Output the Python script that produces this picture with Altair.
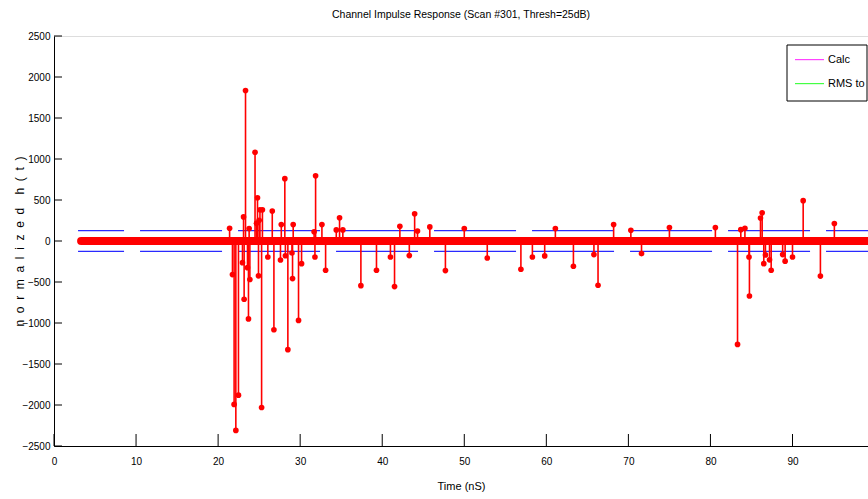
import altair as alt
import pandas as pd

# ---- data ----
t_ns = [21.4, 21.75, 21.95, 22.16, 22.48, 22.97, 23.1, 23.17, 23.34, 23.58,
        23.7, 23.78, 23.87, 24.5, 24.68, 24.8, 24.92, 25.0, 25.1, 25.3,
        25.4, 26.06, 26.6, 26.8, 27.6, 27.7, 28.13, 28.2, 28.5, 29.0,
        29.07, 29.15, 29.8, 30.17, 31.7, 31.8, 31.88, 32.65, 33.1, 34.4,
        34.8, 35.2, 37.4, 39.3, 41.0, 41.5, 42.15, 43.3, 43.95, 44.3,
        45.8, 47.7, 50.0, 52.8, 56.9, 58.3, 59.8, 61.1, 63.3, 65.8,
        66.3, 68.2, 70.3, 71.6, 75.0, 80.6, 83.3, 83.7, 84.2, 84.7,
        84.75, 86.1, 86.3, 86.5, 86.7, 87.2, 87.4, 88.8, 89.1, 90.0,
        91.3, 93.4, 95.1]
h_val = [155, -410, -1993, -2310, -1880, -264, 294, -710, 1835, -325,
         -950, 152, -470, 1082, 215, 528, -425, 253, 380, -2030,
         380, -195, 365, -1082, -232, 200, 760, -180, -1325, -146,
         -458, 200, -968, -276, 112, -195, 795, 200, -357, 135,
         283, 135, -545, -357, -195, -556, 180, -178, 332, 122,
         172, -361, 152, -207, -345, -195, -182, 152, -308, -166,
         -540, 200, 131, -154, 164, 164, -1261, 138, 156, -195,
         -671, 280, 345, -276, -170, -230, -357, -166, -246, -195,
         492, -428, 213]

thresh = 127          # RMS threshold level (+/-)
t_start = 2.93        # first sample time (nS)
band_start = 3.3
t_end = 99.2          # visible end of time axis
x_ticks = [0, 10, 20, 30, 40, 50, 60, 70, 80, 90]
y_ticks = [-2500, -2000, -1500, -1000, -500, 0, 500, 1000, 1500, 2000, 2500]
legend_labels = ["Calc", "RMS to"]
legend_colors = ["#ff44ff", "#44ff44"]

FONT = "Liberation Sans, Arial"
W, H = 814, 410
NB = "\u00a0"
y_title = (NB * 2).join("normalized") + NB * 4 + (NB * 2).join("h(t)")

spikes = pd.DataFrame({"t": t_ns, "h": h_val})
thr = pd.DataFrame({"t0": [t_start, t_start], "t1": [t_end, t_end], "y": [thresh, -thresh]})
band = pd.DataFrame({"t0": [band_start], "t1": [t_end], "y": [0]})
xt = pd.DataFrame({"v": x_ticks})
yt = pd.DataFrame({"v": y_ticks})
one = pd.DataFrame({"k": [0]})

xs = alt.Scale(domain=[0, t_end], nice=False, zero=False)
ys = alt.Scale(domain=[-2500, 2500], nice=False)

x_axis = alt.Axis(values=x_ticks, ticks=False, grid=False, title="Time (nS)",
                  labelFont=FONT, labelFontSize=10, labelPadding=10, labelFlush=False,
                  labelOverlap=False, labelColor="black", format="d",
                  titleFont=FONT, titleFontSize=11, titleFontWeight="normal",
                  titlePadding=14, titleColor="black",
                  domainColor="black", domainWidth=1)
y_axis = alt.Axis(values=y_ticks, ticks=False, grid=False,
                  title=y_title,
                  labelFont=FONT, labelFontSize=10, labelPadding=4, labelFlush=False,
                  labelOverlap=False, labelColor="black", format="d",
                  titleFont=FONT, titleFontSize=12, titleFontWeight="normal",
                  titleX=-35, titleY=H / 2, titleAlign="center", titleBaseline="middle",
                  titleAngle=270, titleColor="black",
                  domainColor="black", domainWidth=1)

X = lambda f: alt.X(f, scale=xs, axis=x_axis)
Y = lambda f: alt.Y(f, scale=ys, axis=y_axis)

thr_layer = alt.Chart(thr).mark_rule(color="#2a2aff", strokeWidth=1.3,
                                     strokeDash=[82, 16], strokeDashOffset=36).encode(
    x=X("t0:Q"), x2="t1:Q", y=Y("y:Q"))

band_layer = alt.Chart(band).mark_rule(color="#ff0000", strokeWidth=8, strokeCap="round").encode(
    x=X("t0:Q"), x2="t1:Q", y=Y("y:Q"))

stems = alt.Chart(spikes).mark_rule(color="#ff0000", strokeWidth=1.6).encode(
    x=X("t:Q"), y=Y("h:Q"), y2=alt.datum(0))

marks = alt.Chart(spikes).mark_point(filled=True, color="#ff0000", size=32, opacity=1).encode(
    x=X("t:Q"), y=Y("h:Q"))

xtick_layer = alt.Chart(xt).mark_rule(color="black", strokeWidth=1).encode(
    x=X("v:Q"), y=alt.value(H), y2=alt.value(H - 12))
ytick_layer = alt.Chart(yt).mark_rule(color="black", strokeWidth=1).encode(
    y=Y("v:Q"), x=alt.value(0), x2=alt.value(8))

leg_box = alt.Chart(one).mark_rect(fill="white", stroke="black", strokeWidth=1).encode(
    x=alt.value(733), x2=alt.value(813), y=alt.value(9), y2=alt.value(65))

leg_layers = []
for i, (lab, col) in enumerate(zip(legend_labels, legend_colors)):
    yy = 23 + 24 * i
    leg_layers.append(alt.Chart(one).mark_rect(fill=col, strokeWidth=0).encode(
        x=alt.value(741), x2=alt.value(770), y=alt.value(yy), y2=alt.value(yy + 1.2)))
    leg_layers.append(alt.Chart(one).mark_text(align="left", baseline="middle", font=FONT,
                                               fontSize=11, color="black", text=lab).encode(
        x=alt.value(774), y=alt.value(yy + 1)))

chart = alt.layer(thr_layer, band_layer, stems, marks, xtick_layer, ytick_layer,
                  leg_box, *leg_layers).properties(
    width=W, height=H,
    title=alt.TitleParams("Channel Impulse Response (Scan #301, Thresh=25dB)",
                          font=FONT, fontSize=10.5, fontWeight="normal", color="black",
                          anchor="middle", offset=11),
    autosize=alt.AutoSizeParams(type="none"),
    padding={"left": 54, "top": 36, "right": 0, "bottom": 53},
).configure_view(stroke=None).configure(background="white")

chart.save("out.html", embed_options={"renderer": "svg", "actions": False})
